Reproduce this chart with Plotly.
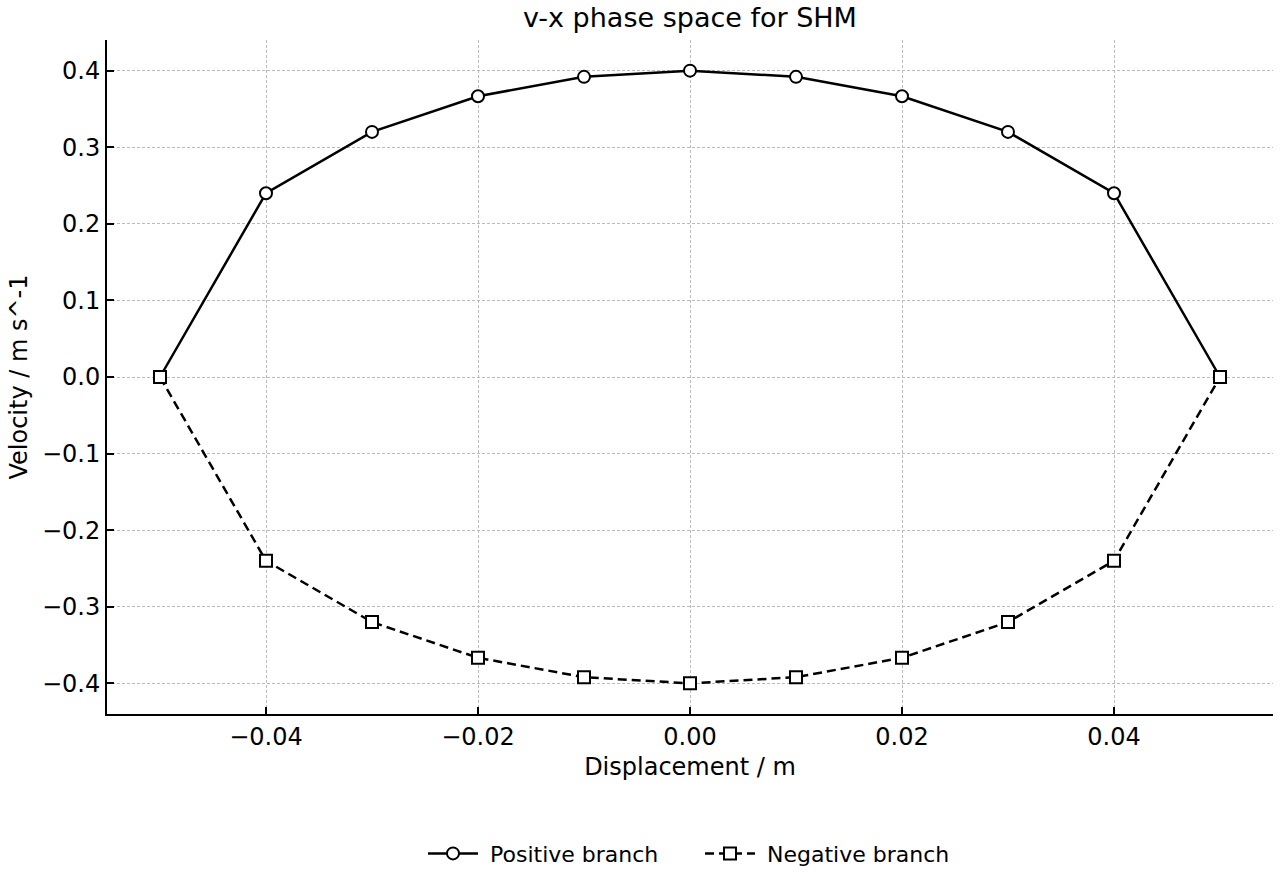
import plotly.graph_objects as go

x_vals = [-0.05, -0.04, -0.03, -0.02, -0.01, 0.0, 0.01, 0.02, 0.03, 0.04, 0.05]
v_pos = [0.0, 0.24, 0.32, 0.3666, 0.3919, 0.4, 0.3919, 0.3666, 0.32, 0.24, 0.0]
v_neg = [0.0, -0.24, -0.32, -0.3666, -0.3919, -0.4, -0.3919, -0.3666, -0.32, -0.24, 0.0]

x_ticks = [-0.04, -0.02, 0.0, 0.02, 0.04]
x_tick_labels = ["\u22120.04", "\u22120.02", "0.00", "0.02", "0.04"]
y_ticks = [-0.4, -0.3, -0.2, -0.1, 0.0, 0.1, 0.2, 0.3, 0.4]
y_tick_labels = ["\u22120.4", "\u22120.3", "\u22120.2", "\u22120.1", "0.0", "0.1", "0.2", "0.3", "0.4"]
series_names = ["Positive branch", "Negative branch"]

font = "DejaVu Sans"

fig = go.Figure()
fig.add_trace(go.Scatter(
    x=x_vals, y=v_pos, mode="lines+markers", name="\u00a0" + series_names[0],
    line=dict(color="black", width=2.5, dash="solid"),
    marker=dict(symbol="circle", size=12, color="white", line=dict(color="black", width=2)),
))
fig.add_trace(go.Scatter(
    x=x_vals, y=v_neg, mode="lines+markers", name="\u00a0" + series_names[1],
    line=dict(color="black", width=2.5, dash="9px,5px"),
    marker=dict(symbol="square", size=12, color="white", line=dict(color="black", width=2)),
))

fig.update_layout(
    width=1280, height=880,
    paper_bgcolor="white", plot_bgcolor="white",
    margin=dict(l=107, r=7, t=40, b=166),
    font=dict(family=font, size=24, color="black"),
    title=dict(text="v-x phase space for SHM", x=0.5, xref="paper", xanchor="center",
               y=0.98, yref="container", yanchor="middle",
               font=dict(size=27, family=font, color="black")),
    showlegend=True,
    legend=dict(orientation="h", x=423 / 1280, xref="container", xanchor="left",
                y=0.03, yref="container", yanchor="middle",
                font=dict(size=22, family=font), itemwidth=50, tracegroupgap=0,
                entrywidth=212, entrywidthmode="pixels"),
)
fig.update_xaxes(
    range=[-0.055, 0.055], tickvals=x_ticks, ticktext=x_tick_labels,
    showgrid=True, gridcolor="#bbbbbb", griddash="3px,2px", gridwidth=1,
    showline=True, linecolor="black", linewidth=2, mirror=False,
    ticks="inside", ticklen=7, tickwidth=2, tickcolor="black",
    zeroline=False,
    title=dict(text="Displacement / m", font=dict(size=24), standoff=8),
    tickfont=dict(size=24),
)
fig.update_yaxes(
    range=[-0.44, 0.44], tickvals=y_ticks, ticktext=y_tick_labels,
    showgrid=True, gridcolor="#bbbbbb", griddash="3px,2px", gridwidth=1,
    showline=True, linecolor="black", linewidth=2, mirror=False,
    ticks="inside", ticklen=7, tickwidth=2, tickcolor="black",
    zeroline=False,
    title=dict(text="Velocity / m s^-1", font=dict(size=24), standoff=8),
    tickfont=dict(size=24),
)

fig.write_html("out.html")
